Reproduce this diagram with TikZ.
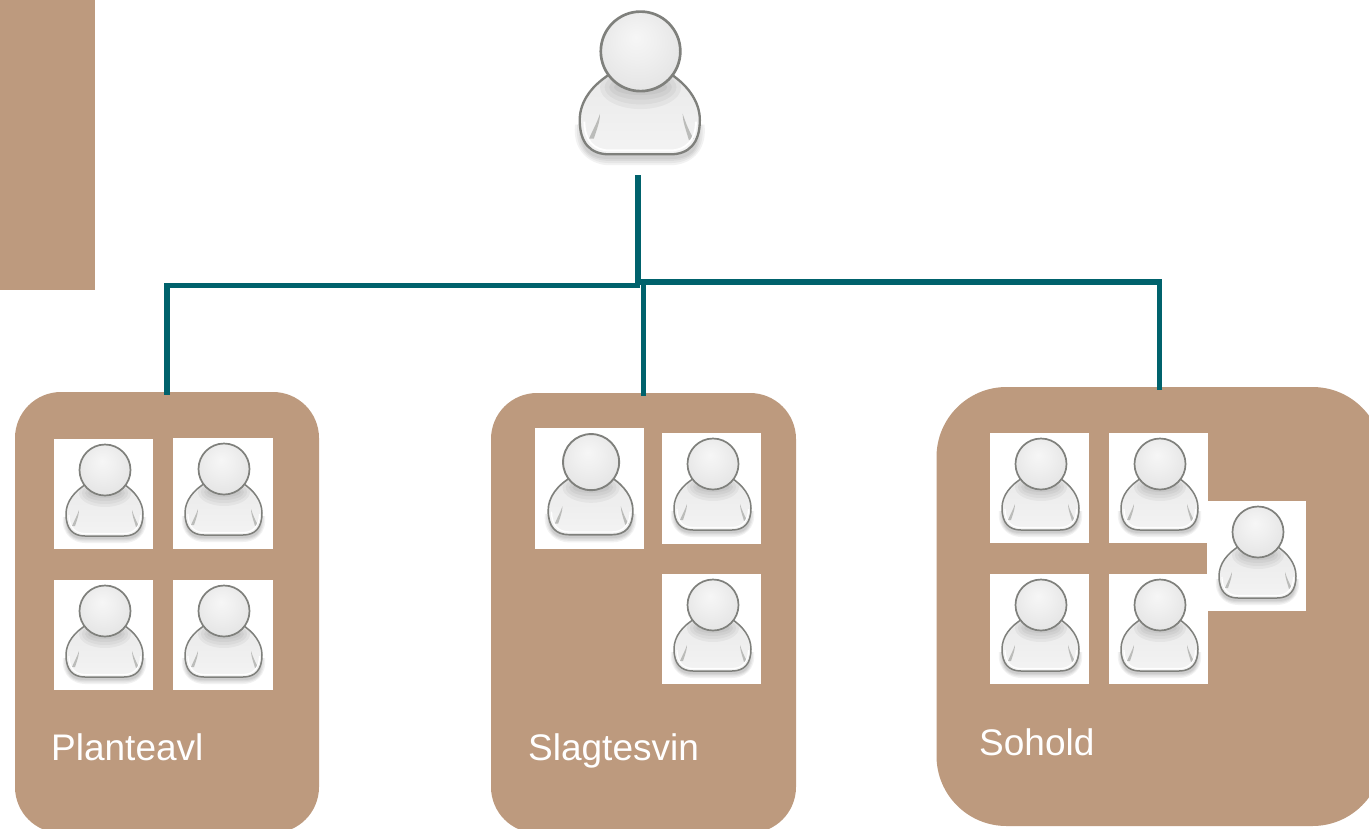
\documentclass[tikz,border=0pt]{standalone}
\usepackage{fontspec}
\setmainfont{Liberation Sans}
\definecolor{tan}{HTML}{BD9A7E}
\definecolor{teal}{HTML}{00626C}
\definecolor{rim}{HTML}{7F807C}
\pgfdeclareradialshading{headshade}{\pgfpoint{-3bp}{9bp}}{
  color(0bp)=(white!93!gray); color(12bp)=(white!88!gray); color(28bp)=(white!80!gray); color(50bp)=(white!62!gray)}
\pgfdeclareverticalshading{bodyshade}{100bp}{
  color(0bp)=(white!92!gray); color(30bp)=(white!90!gray); color(70bp)=(white!84!gray); color(100bp)=(white!84!gray)}
\newcommand\bodypath{(34,44) .. controls (20,52) and (12,63) .. (12,75)
  .. controls (12,90) and (19,97) .. (31,97) -- (70,97)
  .. controls (82,97) and (89,90) .. (89,75) .. controls (89,63) and (81,52) .. (68,44) -- cycle}
\newcommand\drawicon[2]{%
  \begin{scope}[shift={(#1.north west)},scale=#2]
    \foreach \g in {5,3.6,2.2,1}{
      \fill[black,opacity=.05] (12-\g+2,78) .. controls (12-\g,96) and (20,99+\g) .. (31,99+\g) -- (70,99+\g)
        .. controls (82,99+\g) and (89+\g,96) .. (89+\g-2,78) -- cycle;}
    \shade[shading=bodyshade] \bodypath;
    \begin{scope}
      \clip \bodypath;
      \foreach \g in {14,11,8,5}{
        \fill[black,opacity=.04] (51,54) ellipse ({\g+12} and {\g});}
      \fill[rim!70,opacity=.7] (25,71) .. controls (23,77) and (20,82) .. (18,87) -- (21,87) .. controls (23,81) and (25,76) .. (25,71) -- cycle;
      \fill[rim!70,opacity=.7] (78,71) .. controls (80,77) and (82,82) .. (85,87) -- (82,88) .. controls (80,81) and (78,76) .. (78,71) -- cycle;
    \end{scope}
    \draw[white,line width=#2*1.2pt] (15,76) .. controls (15,88) and (21,94.5) .. (31,94.5) -- (70,94.5) .. controls (80,94.5) and (86.5,88) .. (86.5,76);
    \draw[rim,line width=#2*1.5pt,line join=round] \bodypath;
    \shade[shading=headshade,draw=rim,line width=#2*1.7pt] (51,31) circle (25.5);
  \end{scope}}
\tikzset{
  x=1pt,y=-1pt,
  tile/.style={fill=white,inner sep=0pt,outer sep=0pt,anchor=north west},
  groupbox/.style={fill=tan,inner sep=0pt,outer sep=0pt},
  label/.style={text=white,font=\fontsize{37}{37}\selectfont,inner sep=0pt,anchor=base west},
  conn/.style={draw=teal,line width=5.4pt,line cap=butt,line join=miter}
}
\newcommand\tile[5]{\node[tile,minimum width=#4pt,minimum height=#5pt] (#1) at (#2,#3) {};}
\begin{document}
\begin{tikzpicture}
\useasboundingbox (0,0) rectangle (1369,828);
\begin{scope}
\clip (0,0) rectangle (1369,828);
\fill[tan] (0,0) rectangle (95,290);
\node[groupbox,rounded corners=46pt,minimum width=304pt,minimum height=441pt] (plante) at (167,612.5) {};
\node[groupbox,rounded corners=46pt,minimum width=305pt,minimum height=440pt] (slagte) at (643.5,613) {};
\node[groupbox,rounded corners=70pt,minimum width=446pt,minimum height=439pt] (sohold) at (1159.5,606.5) {};

\tile{p1}{54}{439}{99}{110}
\tile{p2}{173}{438}{100}{111}
\tile{p3}{54}{580}{99}{110}
\tile{p4}{173}{580}{100}{110}
\tile{s1}{535}{428}{109}{121}
\tile{s2}{662}{433}{99}{111}
\tile{s3}{662}{574}{99}{110}
\tile{h1}{990}{433}{99}{110}
\tile{h2}{1109}{433}{99}{110}
\tile{h3}{1207}{501}{99}{110}
\tile{h4}{990}{574}{99}{110}
\tile{h5}{1109}{574}{99}{110}
\node[inner sep=0pt,outer sep=0pt,anchor=north west,minimum width=154pt,minimum height=172pt] (boss) at (561,3) {};

\foreach \n in {p1,p2,p3,p4,s2,s3,h1,h2,h3,h4,h5}{\drawicon{\n}{1}}
\drawicon{s1}{1.1}
\drawicon{boss}{1.56}

\node[label] (lp) at (51,760) {Planteavl};
\node[label] (ls) at (528,760) {Slagtesvin};
\node[label] (lh) at (979,755) {Sohold};

\coordinate (j) at (boss.south |- 0,285.5);
\coordinate (jr) at (boss.south |- 0,282);
\draw[conn] ([yshift=-2.5pt]plante.north) -- (plante.north |- j) -- ([xshift=2pt]j);
\draw[conn] ([xshift=-2pt]jr) -- (sohold.north |- jr) -- ([yshift=-2.5pt]sohold.north);
\draw[conn] ([yshift=-2.5pt]slagte.north) -- (slagte.north |- jr);
\draw[conn] (boss.south) -- ([yshift=1pt]j);
\end{scope}
\end{tikzpicture}
\end{document}
